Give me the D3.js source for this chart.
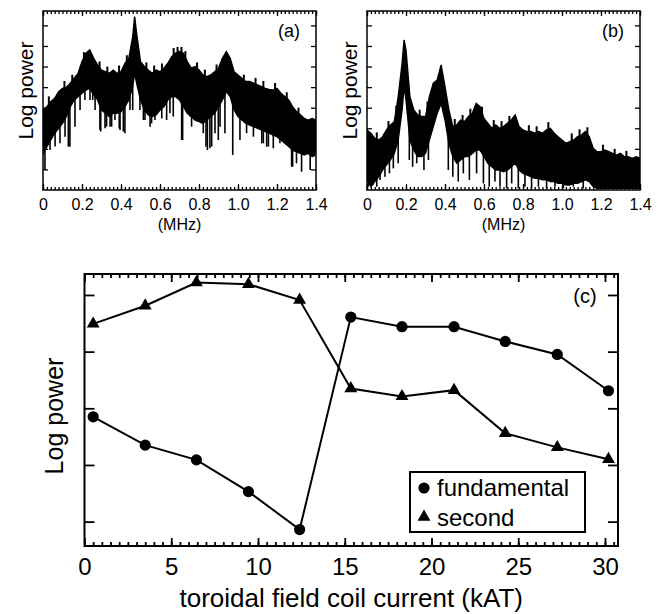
<!DOCTYPE html>
<html lang="en">
<head>
<meta charset="UTF-8">
<title>Log power spectra</title>
<script src="https://d3js.org/d3.v7.min.js"></script>
<style>
    body { margin: 0; background: #fff; }
    svg { display: block; }
    text { font-family: "Liberation Sans", Arial, sans-serif; fill: #000; }
    .tick line { stroke: #000; stroke-width: 1.3; }
    .frame { fill: none; stroke: #000; }
</style>
</head>
<body>
<script>
// ---- panel (a): spectrum, upper / lower edge of the trace + spikes
const freqA = [0, 0.02, 0.04, 0.06, 0.08, 0.10, 0.12, 0.14, 0.16, 0.18, 0.20, 0.22, 0.24, 0.26, 0.28, 0.30,
    0.32, 0.34, 0.36, 0.38, 0.40, 0.42, 0.44, 0.46, 0.47, 0.48, 0.50, 0.52, 0.54, 0.56, 0.58, 0.60,
    0.62, 0.64, 0.66, 0.68, 0.70, 0.72, 0.74, 0.76, 0.78, 0.80, 0.82, 0.84, 0.86, 0.88, 0.90, 0.92,
    0.94, 0.96, 0.98, 1.00, 1.02, 1.04, 1.06, 1.08, 1.10, 1.12, 1.14, 1.16, 1.18, 1.20, 1.22, 1.24,
    1.26, 1.28, 1.30, 1.32, 1.34, 1.36, 1.38, 1.40];
const hiA = [3.89, 4.05, 4.29, 4.46, 4.78, 4.94, 4.99, 5.19, 5.43, 5.67, 6.24, 6.65, 6.81, 6.40, 6.08, 5.83,
    5.75, 5.67, 5.83, 5.67, 5.75, 6.16, 6.40, 7.46, 8.43, 7.62, 6.24, 6.00, 5.83, 5.67, 5.83, 5.75,
    5.92, 6.16, 6.48, 6.65, 6.73, 6.65, 6.24, 5.92, 6.00, 5.83, 5.59, 5.51, 5.59, 5.75, 5.92, 6.40,
    6.73, 6.40, 5.75, 5.59, 5.43, 5.27, 5.27, 5.19, 5.11, 5.02, 4.94, 4.89, 4.86, 4.94, 4.70, 4.54,
    4.38, 4.05, 3.81, 3.65, 3.48, 3.40, 3.48, 3.40];
const loA = [1.78, 2.11, 2.43, 2.76, 3.00, 3.24, 3.57, 4.05, 4.38, 4.54, 4.70, 4.86, 4.94, 4.62, 4.38, 3.89,
    3.73, 3.57, 3.73, 3.73, 3.81, 4.05, 4.38, 5.02, 5.67, 5.19, 4.38, 3.89, 3.65, 3.57, 3.65, 3.89,
    4.05, 4.38, 4.54, 4.54, 4.38, 4.05, 3.73, 3.57, 3.40, 3.32, 3.24, 3.40, 3.57, 3.73, 4.05, 4.38,
    4.78, 4.54, 3.89, 3.57, 3.40, 3.24, 3.16, 3.08, 3.00, 2.92, 2.84, 2.76, 2.67, 2.59, 2.43, 2.27,
    2.11, 1.94, 1.86, 1.78, 1.70, 1.78, 1.62, 1.78];
const spikeFreqA = [0.01, 0.036, 0.062, 0.087, 0.113, 0.13, 0.138, 0.164, 0.19, 0.215, 0.241, 0.255, 0.267,
    0.292, 0.296, 0.318, 0.326, 0.344, 0.352, 0.369, 0.391, 0.395, 0.412, 0.42, 0.446, 0.46, 0.497,
    0.515, 0.523, 0.549, 0.557, 0.574, 0.609, 0.634, 0.651, 0.668, 0.711, 0.716, 0.754, 0.762, 0.788,
    0.805, 0.822, 0.836, 0.843, 0.856, 0.865, 0.882, 0.899, 0.908, 0.933, 0.973, 1.01, 1.044, 1.079,
    1.122, 1.13, 1.147, 1.156, 1.181, 1.215, 1.275, 1.28, 1.30, 1.326, 1.37, 1.39];
const spikeValA = [0.97, 1.94, 2.11, 2.27, 2.59, 2.11, 2.10, 3.08, 3.89, 4.38, 4.38, 4.38, 3.89,
    2.92, 2.84, 3.00, 3.08, 3.08, 3.08, 3.40, 3.00, 2.92, 2.84, 2.76, 3.89, 3.89, 3.89,
    3.40, 3.40, 3.08, 3.24, 3.40, 3.48, 3.40, 3.73, 3.57, 2.43, 2.43, 3.57, 3.08, 3.40,
    3.40, 2.76, 2.10, 1.94, 2.03, 2.11, 2.76, 2.43, 3.08, 2.76, 1.70, 2.43, 2.76, 2.59,
    2.27, 2.27, 2.10, 2.11, 2.03, 2.27, 1.13, 1.13, 1.30, 0.89, 0.97, 1.62];
const upFreqA = [0.03, 0.11, 0.15, 0.21, 0.29, 0.33, 0.39, 0.43, 0.53, 0.57, 0.61, 0.67, 0.69, 0.71,
    0.73, 0.79, 0.83, 0.89, 1.03, 1.09, 1.13, 1.19, 1.25, 1.31];
const upValA = [4.55, 5.30, 5.60, 6.70, 6.25, 6.00, 6.05, 6.55, 6.20, 6.05, 6.15, 6.90, 6.95, 6.95,
    6.75, 6.20, 5.85, 6.10, 5.60, 5.45, 5.30, 5.20, 4.75, 4.00];

// ---- panel (b)
const freqB = [0, 0.02, 0.04, 0.06, 0.08, 0.10, 0.12, 0.14, 0.16, 0.18, 0.19, 0.20, 0.22, 0.24, 0.26, 0.28,
    0.30, 0.32, 0.34, 0.36, 0.38, 0.40, 0.42, 0.44, 0.46, 0.48, 0.50, 0.52, 0.54, 0.56, 0.58, 0.60,
    0.62, 0.64, 0.66, 0.68, 0.70, 0.72, 0.74, 0.76, 0.78, 0.80, 0.82, 0.84, 0.86, 0.88, 0.90, 0.92,
    0.94, 0.96, 0.98, 1.00, 1.02, 1.04, 1.06, 1.08, 1.10, 1.12, 1.14, 1.16, 1.18, 1.20, 1.22, 1.24,
    1.26, 1.28, 1.30, 1.32, 1.34, 1.36, 1.38, 1.40];
const hiB = [2.92, 2.76, 2.51, 2.43, 2.59, 2.92, 3.16, 3.32, 4.54, 6.16, 7.29, 6.81, 4.54, 3.89, 3.65, 3.57,
    3.57, 4.54, 5.19, 5.35, 6.08, 5.02, 3.89, 3.08, 3.16, 3.40, 3.32, 3.57, 3.73, 4.21, 4.05, 3.48,
    3.24, 3.00, 3.16, 3.00, 3.08, 3.24, 3.40, 3.65, 3.08, 2.92, 2.84, 2.84, 2.76, 2.84, 2.76, 2.92,
    3.00, 2.76, 2.59, 2.43, 2.27, 2.35, 2.43, 2.59, 2.67, 2.84, 2.59, 2.03, 1.86, 1.86, 1.94, 1.86,
    1.78, 1.70, 1.78, 1.62, 1.62, 1.54, 1.62, 1.54];
const loB = [0.49, 0.16, 0.41, 0.65, 0.97, 1.22, 1.46, 1.78, 2.43, 3.89, 5.02, 4.38, 2.43, 1.94, 1.62, 1.62,
    1.78, 2.43, 3.08, 3.73, 4.21, 3.40, 2.27, 1.62, 1.30, 1.46, 1.62, 1.62, 1.78, 1.94, 1.94, 1.62,
    1.30, 1.13, 0.97, 0.97, 0.89, 0.97, 1.13, 1.30, 0.97, 0.81, 0.73, 0.65, 0.57, 0.57, 0.49, 0.49,
    0.41, 0.41, 0.32, 0.32, 0.24, 0.24, 0.32, 0.32, 0.41, 0.49, 0.41, 0.16, 0.08, 0.08, 0.08, 0.08,
    0.08, 0.08, 0.08, 0.08, 0.08, 0.08, 0.08, 0.08];
const spikeFreqB = [0.007, 0.029, 0.05, 0.067, 0.092, 0.115, 0.135, 0.16, 0.217, 0.234, 0.255, 0.292, 0.315,
    0.417, 0.44, 0.468, 0.494, 0.525, 0.562, 0.597, 0.627, 0.656, 0.682, 0.716, 0.742, 0.776, 0.81,
    0.844, 0.879, 0.921, 0.964, 1.007, 1.058, 1.109, 1.178, 1.229, 1.28, 1.349];
const spikeValB = [0.16, 0.24, 0.16, 0.49, 0.65, 0.81, 1.05, 1.30, 1.46, 1.13, 1.30, 0.97, 1.46,
    0.97, 0.65, 0.41, 0.81, 0.49, 0.81, 0.32, 0.16, 0.41, 0.16, 0.08, 0.32, 0.08, 0.16,
    0.08, 0.16, 0.08, 0.16, 0.08, 0.16, 0.08, 0.08, 0.16, 0.08, 0.16];
const upFreqB = [0.05, 0.11, 0.15, 0.27, 0.31, 0.45, 0.49, 0.53, 0.59, 0.65, 0.69, 0.73, 0.83, 0.87,
    0.93, 1.05, 1.09, 1.13, 1.21, 1.27, 1.33];
const upValB = [2.80, 3.35, 4.10, 3.90, 4.30, 3.45, 3.65, 3.95, 4.05, 3.40, 3.35, 3.60, 3.15, 3.10,
    3.30, 2.75, 2.95, 3.05, 2.20, 2.00, 1.90];

const freqTicks = [0, 0.2, 0.4, 0.6, 0.8, 1.0, 1.2, 1.4];
const powerTicks = [1, 2, 3, 4, 5, 6, 7, 8];

// ---- panel (c): peak power against toroidal field coil current
const current = [0.5, 3.5, 6.45, 9.45, 12.4, 15.35, 18.3, 21.3, 24.25, 27.25, 30.2];
const fundamental = [2.85, 2.35, 2.09, 1.53, 0.86, 4.61, 4.44, 4.44, 4.18, 3.95, 3.31];
const second = [4.49, 4.81, 5.22, 5.19, 4.91, 3.35, 3.21, 3.32, 2.56, 2.31, 2.10];
const currentTicks = [0, 5, 10, 15, 20, 25, 30];
const levelTicks = [1, 2, 3, 4, 5];

const width = 662, height = 614;
const svg = d3.select("body").append("svg")
    .attr("width", width)
    .attr("height", height);

// draws one spectrum panel
function spectrumPanel(box, s, tag) {
    const x = d3.scaleLinear().domain([0, 1.4]).range([box.x0, box.x1]);
    const y = d3.scaleLinear().domain([0, 8.7]).range([box.y1, box.y0]);
    const g = svg.append("g");

    const clipId = "clip" + tag.replace(/\W/g, "");
    svg.append("clipPath").attr("id", clipId)
        .append("rect")
        .attr("x", box.x0).attr("y", box.y0)
        .attr("width", box.x1 - box.x0).attr("height", box.y1 - box.y0);

    const band = g.append("g").attr("clip-path", `url(#${clipId})`);
    const rows = s.freq.map((f, i) => ({ f, hi: s.hi[i], lo: s.lo[i] }));
    band.append("path")
        .datum(rows)
        .attr("d", d3.area().x(d => x(d.f)).y0(d => y(d.lo)).y1(d => y(d.hi)))
        .attr("fill", "#000")
        .attr("stroke", "#000")
        .attr("stroke-width", 1.4);

    // value of an edge at frequency f (taken from the nearer-inside neighbour)
    const edgeAt = (arr, f, pick) => {
        const i = d3.bisectLeft(s.freq, f);
        if (i <= 0) return arr[0];
        if (i >= s.freq.length) return arr[arr.length - 1];
        return pick(arr[i - 1], arr[i]);
    };
    // downward spikes hang from the lower edge of the trace
    band.selectAll(".spike")
        .data(s.spikeF.map((f, i) => ({ f, v: s.spikeV[i] })))
        .enter().append("line")
        .attr("class", "spike")
        .attr("x1", d => x(d.f)).attr("x2", d => x(d.f))
        .attr("y1", d => y(edgeAt(s.lo, d.f, Math.max)) - 2).attr("y2", d => y(d.v))
        .attr("stroke", "#000")
        .attr("stroke-width", 1.6);
    // small upward jags on the top edge
    band.selectAll(".jag")
        .data(s.upF.map((f, i) => ({ f, v: s.upV[i] })))
        .enter().append("line")
        .attr("class", "jag")
        .attr("x1", d => x(d.f)).attr("x2", d => x(d.f))
        .attr("y1", d => y(edgeAt(s.hi, d.f, Math.min)) + 2).attr("y2", d => y(d.v))
        .attr("stroke", "#000")
        .attr("stroke-width", 2);

    // axes: ticks point inward
    const minor = d3.range(0, 1.4001, 0.02);
    g.append("g").attr("transform", `translate(0,${box.y1})`)
        .call(d3.axisBottom(x).tickValues(minor).tickSize(-3).tickFormat(""));
    g.append("g").attr("transform", `translate(0,${box.y1})`)
        .call(d3.axisBottom(x).tickValues(freqTicks).tickSize(-6).tickPadding(8.5)
            .tickFormat(d => d === 0 ? "0" : d.toFixed(1)))
        .selectAll("text").style("font-size", "16px");
    g.append("g").attr("transform", `translate(0,${box.y0})`)
        .call(d3.axisTop(x).tickValues(minor).tickSize(-3).tickFormat(""));
    g.append("g").attr("transform", `translate(0,${box.y0})`)
        .call(d3.axisTop(x).tickValues(freqTicks).tickSize(-5).tickFormat(""));
    g.append("g").attr("transform", `translate(${box.x0},0)`)
        .call(d3.axisLeft(y).tickValues(powerTicks).tickSize(-5).tickFormat(""));
    g.append("g").attr("transform", `translate(${box.x1},0)`)
        .call(d3.axisRight(y).tickValues(powerTicks).tickSize(-5).tickFormat(""));
    g.selectAll(".domain").remove();

    g.append("rect").attr("class", "frame")
        .attr("x", box.x0).attr("y", box.y0)
        .attr("width", box.x1 - box.x0).attr("height", box.y1 - box.y0)
        .attr("stroke-width", 1.5);

    g.append("text")
        .attr("x", (box.x0 + box.x1) / 2).attr("y", 230)
        .attr("text-anchor", "middle")
        .style("font-size", "16px")
        .text("(MHz)");
    g.append("text")
        .attr("transform", `translate(${box.x0 - 10},${(box.y0 + box.y1) / 2 - 10}) rotate(-90)`)
        .attr("text-anchor", "middle")
        .style("font-size", "21px")
        .text("Log power");
    g.append("text")
        .attr("x", box.x1 - 27).attr("y", 37)
        .attr("text-anchor", "middle")
        .style("font-size", "18px")
        .text(tag);
}

spectrumPanel({ x0: 43, x1: 316, y0: 11, y1: 190 },
    { freq: freqA, hi: hiA, lo: loA, spikeF: spikeFreqA, spikeV: spikeValA, upF: upFreqA, upV: upValA }, "(a)");
spectrumPanel({ x0: 367, x1: 640, y0: 11, y1: 190 },
    { freq: freqB, hi: hiB, lo: loB, spikeF: spikeFreqB, spikeV: spikeValB, upF: upFreqB, upV: upValB }, "(b)");

// ---- panel (c)
const boxC = { x0: 84.5, x1: 618, y0: 274, y1: 546 };
const xC = d3.scaleLinear().domain([0, 30.75]).range([boxC.x0, boxC.x1]);
const yC = d3.scaleLinear().domain([0.57, 5.37]).range([boxC.y1, boxC.y0]);
const gC = svg.append("g");

const minorC = d3.range(0, 30.75, 0.5);
gC.append("g").attr("transform", `translate(0,${boxC.y1})`)
    .call(d3.axisBottom(xC).tickValues(minorC).tickSize(-4).tickFormat(""));
gC.append("g").attr("transform", `translate(0,${boxC.y1})`)
    .call(d3.axisBottom(xC).tickValues(currentTicks).tickSize(-8).tickPadding(12))
    .selectAll("text").style("font-size", "24px");
gC.append("g").attr("transform", `translate(0,${boxC.y0})`)
    .call(d3.axisTop(xC).tickValues(minorC).tickSize(-4).tickFormat(""));
gC.append("g").attr("transform", `translate(0,${boxC.y0})`)
    .call(d3.axisTop(xC).tickValues(currentTicks).tickSize(-8).tickFormat(""));
gC.append("g").attr("transform", `translate(${boxC.x0},0)`)
    .call(d3.axisLeft(yC).tickValues(levelTicks).tickSize(-10).tickFormat(""));
gC.append("g").attr("transform", `translate(${boxC.x1},0)`)
    .call(d3.axisRight(yC).tickValues(levelTicks).tickSize(-10).tickFormat(""));
gC.selectAll(".domain").remove();
gC.selectAll(".tick line").style("stroke-width", 1.8);

gC.append("rect").attr("class", "frame")
    .attr("x", boxC.x0).attr("y", boxC.y0)
    .attr("width", boxC.x1 - boxC.x0).attr("height", boxC.y1 - boxC.y0)
    .attr("stroke-width", 2);

const line = d3.line().x(d => xC(d[0])).y(d => yC(d[1]));
const fundRows = current.map((c, i) => [c, fundamental[i]]);
const secRows = current.map((c, i) => [c, second[i]]);

gC.append("path").datum(fundRows).attr("d", line)
    .attr("fill", "none").attr("stroke", "#000").attr("stroke-width", 2);
gC.append("path").datum(secRows).attr("d", line)
    .attr("fill", "none").attr("stroke", "#000").attr("stroke-width", 2);

gC.selectAll(".fund").data(fundRows).enter().append("circle")
    .attr("class", "fund")
    .attr("cx", d => xC(d[0])).attr("cy", d => yC(d[1]))
    .attr("r", 5.6).attr("fill", "#000");
const tri = d3.symbol(d3.symbolTriangle, 72);
gC.selectAll(".sec").data(secRows).enter().append("path")
    .attr("class", "sec")
    .attr("transform", d => `translate(${xC(d[0])},${yC(d[1])})`)
    .attr("d", tri).attr("fill", "#000");

// legend
const legend = gC.append("g");
legend.append("rect")
    .attr("x", 410).attr("y", 472).attr("width", 175).attr("height", 60)
    .attr("fill", "#fff").attr("stroke", "#000").attr("stroke-width", 2);
legend.append("circle").attr("cx", 424).attr("cy", 488).attr("r", 5.6).attr("fill", "#000");
legend.append("path").attr("transform", "translate(424,517)").attr("d", tri).attr("fill", "#000");
legend.append("text").attr("x", 437).attr("y", 496).style("font-size", "24px").text("fundamental");
legend.append("text").attr("x", 437).attr("y", 526).style("font-size", "24px").text("second");

gC.append("text")
    .attr("x", 585).attr("y", 303)
    .attr("text-anchor", "middle")
    .style("font-size", "20px")
    .text("(c)");
gC.append("text")
    .attr("transform", `translate(63,${(boxC.y0 + boxC.y1) / 2 + 6}) rotate(-90)`)
    .attr("text-anchor", "middle")
    .style("font-size", "25px")
    .text("Log power");
gC.append("text")
    .attr("x", (boxC.x0 + boxC.x1) / 2).attr("y", 607)
    .attr("text-anchor", "middle")
    .style("font-size", "26px")
    .text("toroidal field coil current (kAT)");
</script>
</body>
</html>
